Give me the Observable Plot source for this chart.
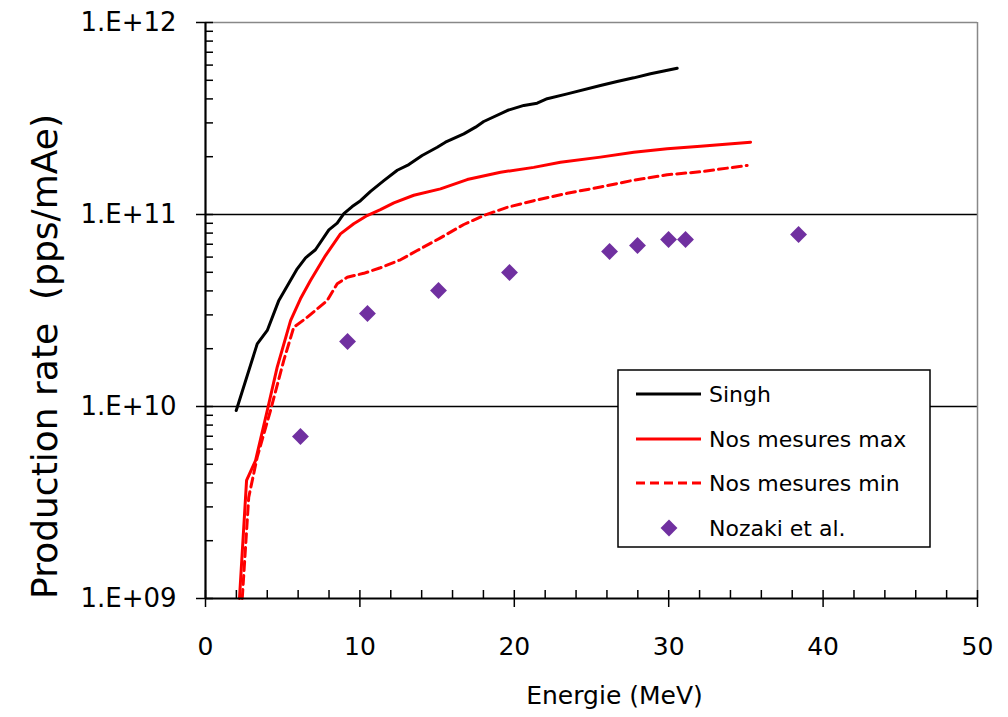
<!DOCTYPE html>
<html>
<head>
<meta charset="utf-8">
<script src="https://cdn.jsdelivr.net/npm/d3@7"></script>
<script src="https://cdn.jsdelivr.net/npm/@observablehq/plot@0.6"></script>
<style>
  html, body { margin: 0; padding: 0; background: #fff; }
  #chart { width: 1008px; height: 717px; }
</style>
</head>
<body>
<div id="chart"></div>
<script>
// ---- data ----
const singhE = [1.99,3.35,4.0,4.75,5.94,6.48,7.12,7.99,8.53,8.96,9.50,10.04,10.69,11.55,12.42,13.17,14.03,15.01,15.54,16.73,17.49,18.02,19.54,20.62,21.48,22.13,23.43,25.58,26.66,27.74,28.82,30.55];
const singhRate = [9.53e9,2.12e10,2.49e10,3.57e10,5.21e10,5.95e10,6.55e10,8.32e10,9.01e10,1.01e11,1.10e11,1.18e11,1.32e11,1.50e11,1.70e11,1.82e11,2.03e11,2.24e11,2.38e11,2.63e11,2.85e11,3.05e11,3.48e11,3.70e11,3.80e11,4.01e11,4.25e11,4.70e11,4.93e11,5.15e11,5.41e11,5.78e11];

const maxE = [2.20,2.66,3.24,4.0,4.64,5.51,6.15,6.80,7.77,8.74,9.60,10.47,11.33,12.20,13.49,15.22,16.95,19.11,21.26,22.99,25.58,27.74,29.90,32.06,35.30];
const maxRate = [1.0e9,4.12e9,5.23e9,9.53e9,1.60e10,2.80e10,3.64e10,4.53e10,6.11e10,7.93e10,8.95e10,9.88e10,1.06e11,1.15e11,1.26e11,1.36e11,1.52e11,1.66e11,1.76e11,1.87e11,1.99e11,2.11e11,2.20e11,2.27e11,2.38e11];

const minE = [2.38,2.80,3.35,4.21,5.07,5.72,6.48,7.88,8.53,9.18,10.25,11.33,12.63,13.71,15.22,16.73,18.02,19.54,21.26,23.43,25.58,27.74,29.90,32.06,35.08];
const minRate = [1.0e9,3.37e9,5.45e9,9.53e9,1.74e10,2.59e10,2.87e10,3.56e10,4.36e10,4.71e10,4.94e10,5.28e10,5.81e10,6.49e10,7.56e10,8.87e10,9.88e10,1.09e11,1.18e11,1.29e11,1.39e11,1.51e11,1.61e11,1.67e11,1.80e11];

const nozakiE = [6.15,9.20,10.49,15.09,19.69,26.17,27.98,29.99,31.09,38.41];
const nozakiRate = [6.98e9,2.18e10,3.05e10,4.02e10,4.99e10,6.42e10,6.90e10,7.41e10,7.41e10,7.87e10];

const seriesNames = ["Singh", "Nos mesures max", "Nos mesures min", "Nozaki et al."];

const xMajor = [0,10,20,30,40,50];
const xMinor = [2,4,6,8,12,14,16,18,22,24,26,28,32,34,36,38,42,44,46,48];
const yMajor = [1e9,1e10,1e11,1e12];
const yLabels = ["1.E+09","1.E+10","1.E+11","1.E+12"];
const yMinorMult = [2,3,4,5,6,7,8,9];
const yDecades = [1e9,1e10,1e11];

const xTitle = "Energie (MeV)";
const yTitle = "Production rate  (pps/mAe)";

// ---- build tables ----
const toRows = (xs, ys) => xs.map((x, i) => ({x, y: ys[i]}));
const singh = toRows(singhE, singhRate);
const mmax = toRows(maxE, maxRate);
const mmin = toRows(minE, minRate);
const nozaki = toRows(nozakiE, nozakiRate);
const yMinor = yDecades.flatMap(d => yMinorMult.map(m => d * m));

const W = 1008, H = 717;
const ML = 205, MR = 31, MT = 22, MB = 119;
const PW = W - ML - MR, PH = H - MT - MB;
const FONT = "DejaVu Sans";

const chart = Plot.plot({
  width: W,
  height: H,
  marginLeft: ML, marginRight: MR, marginTop: MT, marginBottom: MB,
  style: {fontFamily: FONT, background: "#fff", color: "#000", overflow: "visible"},
  x: {domain: [0, 50], axis: null},
  y: {type: "log", domain: [1e9, 1e12], axis: null},
  marks: [
    // grid and frame
    Plot.ruleY([1e10, 1e11], {stroke: "#000", strokeWidth: 1.3}),
    Plot.ruleY([1e12], {stroke: "#888", strokeWidth: 1.5}),
    Plot.ruleX([50], {stroke: "#888", strokeWidth: 1.5}),
    // series
    Plot.line(singh, {x: "x", y: "y", stroke: "#000", strokeWidth: 3}),
    Plot.line(mmax, {x: "x", y: "y", stroke: "#ff0000", strokeWidth: 3}),
    Plot.line(mmin, {x: "x", y: "y", stroke: "#ff0000", strokeWidth: 3, strokeDasharray: "9,5"}),
    Plot.dot(nozaki, {x: "x", y: "y", symbol: "diamond2", r: 7.6, fill: "#7030a0", stroke: "none"}),
    // axes lines
    Plot.ruleX([0], {stroke: "#000", strokeWidth: 2.2}),
    Plot.ruleY([1e9], {stroke: "#000", strokeWidth: 2.2}),
    // ticks
    Plot.tickX(xMinor, {x: d => d, insetTop: PH - 8, stroke: "#000", strokeWidth: 1.5}),
    Plot.tickX(xMajor, {x: d => d, insetTop: PH - 8, insetBottom: -9, stroke: "#000", strokeWidth: 1.5}),
    Plot.tickY(yMinor, {y: d => d, insetRight: PW - 8, stroke: "#000", strokeWidth: 1.5}),
    Plot.tickY(yMajor, {y: d => d, insetLeft: -9, insetRight: PW - 8, stroke: "#000", strokeWidth: 1.5}),
    // tick labels
    Plot.axisX(xMajor, {tickSize: 0, tickPadding: 39, fontSize: 25, label: null}),
    Plot.axisY(yMajor, {tickSize: 0, tickPadding: 29, fontSize: 26, label: null,
      tickFormat: d => yLabels[yMajor.indexOf(d)]}),
    // titles
    Plot.text([xTitle], {text: d => d, frameAnchor: "bottom", textAnchor: "middle", lineAnchor: "middle",
      dx: 23, dy: 97, fontSize: 25}),
    Plot.text([yTitle], {text: d => d, frameAnchor: "left", textAnchor: "middle", lineAnchor: "middle",
      rotate: -90, dx: -160, dy: 46, fontSize: 36})
  ]
});
document.getElementById("chart").appendChild(chart);

// ---- legend (inside plot area) ----
const svg = d3.select(chart);
const lg = svg.append("g").attr("font-family", FONT).attr("font-size", 22);
lg.append("rect").attr("x", 618).attr("y", 370).attr("width", 312).attr("height", 177)
  .attr("fill", "#fff").attr("stroke", "#000").attr("stroke-width", 1.5);
const rowsY = [394, 439, 483, 528];
const styles = [
  {type: "line", stroke: "#000", dash: null},
  {type: "line", stroke: "#ff0000", dash: null},
  {type: "line", stroke: "#ff0000", dash: "9,5"},
  {type: "dot", fill: "#7030a0"}
];
seriesNames.forEach((name, i) => {
  const y = rowsY[i], s = styles[i];
  if (s.type === "line") {
    lg.append("line").attr("x1", 636).attr("x2", 701).attr("y1", y).attr("y2", y)
      .attr("stroke", s.stroke).attr("stroke-width", 3).attr("stroke-dasharray", s.dash);
  } else {
    lg.append("path").attr("d", d3.symbol(d3.symbolDiamond2, Math.PI * 7.6 * 7.6)())
      .attr("transform", `translate(669,${y})`).attr("fill", s.fill);
  }
  lg.append("text").attr("x", 709).attr("y", y).attr("dy", "0.35em")
    .attr("text-anchor", "start").attr("fill", "#000").text(name);
});
</script>
</body>
</html>
